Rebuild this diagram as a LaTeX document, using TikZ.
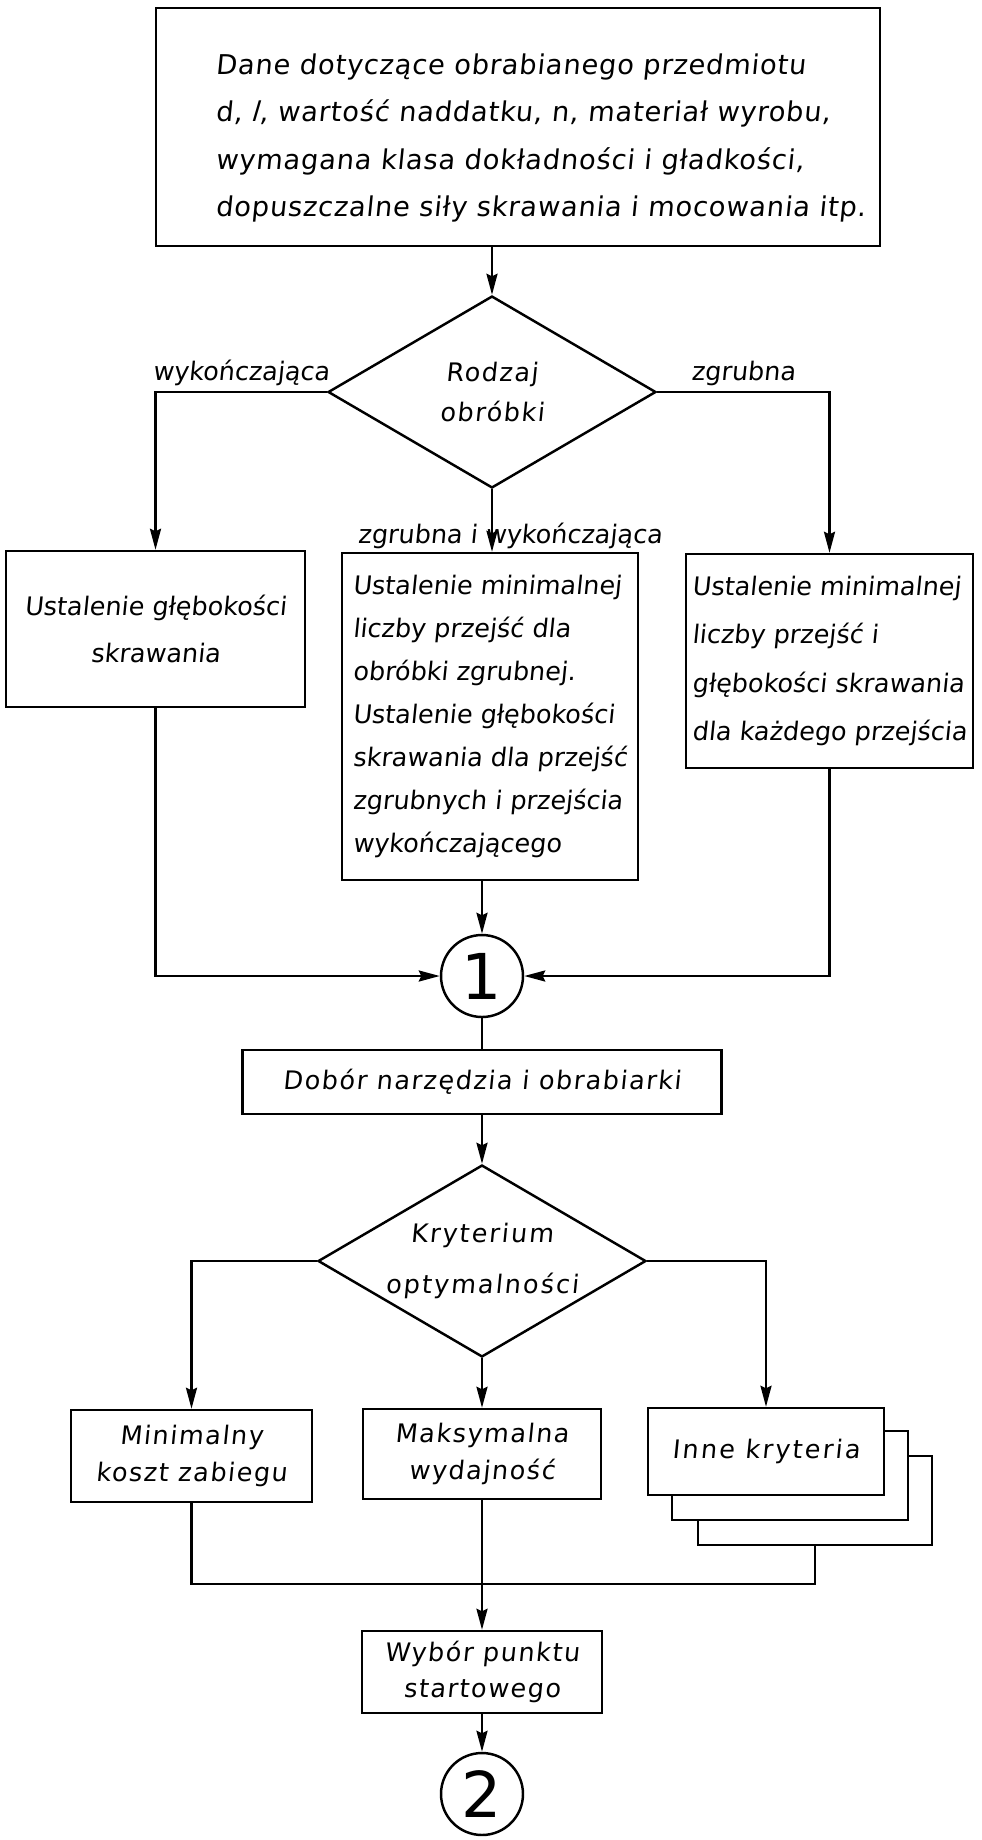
\documentclass[tikz,border=0pt]{standalone}
\usepackage{fontspec}
\setmainfont{DejaVu Sans}[FakeSlant=0.1]
\newfontfamily\widefont{DejaVu Sans}[FakeSlant=0.1, LetterSpace=6]
\newfontfamily\digitfont{DejaVu Sans}
\usepackage{tikz}
\usetikzlibrary{shapes.geometric,arrows.meta}

\begin{document}
\begin{tikzpicture}[
        x=0.02cm, y=-0.02cm,
        line width=1.4pt,
        >={Stealth[length=0.42cm, width=0.22cm, inset=0.05cm]},
        block/.style={draw, rectangle, fill=white, align=center, inner sep=0pt, font=\widefont\fontsize{14.5}{26}\selectfont},
        decision/.style={draw, diamond, aspect=1.7, inner sep=0pt, align=center, minimum width=6.56cm, minimum height=3.84cm},
        connector/.style={draw, circle, inner sep=0pt, minimum size=1.64cm, font=\digitfont\fontsize{36}{36}\selectfont},
        branch/.style={font=\fontsize{14.5}{17}\selectfont, inner sep=3pt}
    ]
        \fill[white] (0,0) rectangle (981,1840);
        \useasboundingbox (0,0) rectangle (981,1840);

        % Input data and first decision
        \node[block, minimum width=14.48cm, minimum height=4.76cm, align=left, font=\fontsize{15.5}{27}\selectfont\addfontfeature{LetterSpace=3}] (data) at (518,127) {\rule{0pt}{0.85cm}\hspace*{0.9cm}Dane dotyczące obrabianego przedmiotu\\\hspace*{0.9cm}d, \textit{l}, wartość naddatku, n, materiał wyrobu,\\\hspace*{0.9cm}wymagana klasa dokładności i gładkości,\\\hspace*{0.9cm}dopuszczalne siły skrawania i mocowania itp.};
        \node[decision, font=\widefont\fontsize{14.5}{23}\selectfont] (kind) at (492,392) {Rodzaj\\obróbki};

        % Three ways of machining
        \node[block, minimum width=5.98cm, minimum height=3.12cm, font=\fontsize{14.5}{27}\selectfont] (depth) at (155.5,629) {Ustalenie głębokości\\skrawania};
        \node[block, minimum width=5.92cm, minimum height=6.54cm, align=left, font=\fontsize{14.5}{24.5}\selectfont] (mixed) at (490,716.5) {Ustalenie minimalnej\\liczby przejść dla\\obróbki zgrubnej.\\Ustalenie głębokości\\skrawania dla przejść\\zgrubnych i przejścia\\wykończającego};
        \node[block, minimum width=5.74cm, minimum height=4.28cm, align=left, font=\fontsize{14.5}{27.5}\selectfont] (rough) at (829.5,661) {Ustalenie minimalnej\\liczby przejść i\\głębokości skrawania\\dla każdego przejścia};
        \node[connector] (join1) at (482,976) {1};

        % Tool and criterion
        \node[block, minimum width=9.58cm, minimum height=1.28cm] (tool) at (482,1082) {Dobór narzędzia i obrabiarki};
        \node[decision, font=\widefont\fontsize{14.5}{29}\selectfont\addfontfeature{LetterSpace=8}] (crit) at (482,1261) {Kryterium\\optymalności};

        \node[block, minimum width=4.82cm, minimum height=1.84cm, font=\widefont\fontsize{14.5}{21.5}\selectfont] (mincost) at (191.5,1456) {Minimalny\\koszt zabiegu};
        \node[block, minimum width=4.76cm, minimum height=1.8cm, font=\widefont\fontsize{14.5}{21.5}\selectfont] (maxout) at (482,1454) {Maksymalna\\wydajność};
        \node[block, minimum width=4.68cm, minimum height=1.78cm] (other3) at (815,1500.5) {};
        \node[block, minimum width=4.72cm, minimum height=1.78cm] (other2) at (790,1475.5) {};
        \node[block, minimum width=4.72cm, minimum height=1.74cm, font=\widefont\fontsize{14.5}{20}\selectfont\addfontfeature{LetterSpace=9}] (other) at (766,1451.5) {Inne kryteria};
        \coordinate (merge) at (482,1584);

        \node[block, minimum width=4.8cm, minimum height=1.64cm, font=\widefont\fontsize{14.5}{20}\selectfont] (pick) at (482,1672) {Wybór punktu\\startowego};
        \node[connector] (join2) at (482,1794) {2};

        % Connections
        \draw[->] (data.south -| kind.north) -- (kind.north);
        \draw[->] (kind.west) -| node[branch, pos=0.25, above] {wykończająca} (depth);
        \draw[->] (kind.east) -| node[branch, pos=0.25, above] {zgrubna} (rough);
        \draw[->] (kind.south) -- node[branch, pos=0.74, xshift=0.36cm] {zgrubna i wykończająca} (kind.south |- mixed.north);
        \draw[->] (depth) |- (join1);
        \draw[->] (rough) |- (join1);
        \draw[->] (mixed.south -| join1) -- (join1);
        \draw (join1) -- (tool);
        \draw[->] (tool) -- (crit);
        \draw[->] (crit.west) -| (mincost);
        \draw[->] (crit.east) -| (other);
        \draw[->] (crit) -- (maxout);
        \draw (mincost) |- (merge) -| (other3);
        \draw[->] (maxout) -- (pick);
        \draw[->] (pick) -- (join2);
    \end{tikzpicture}
\end{document}
